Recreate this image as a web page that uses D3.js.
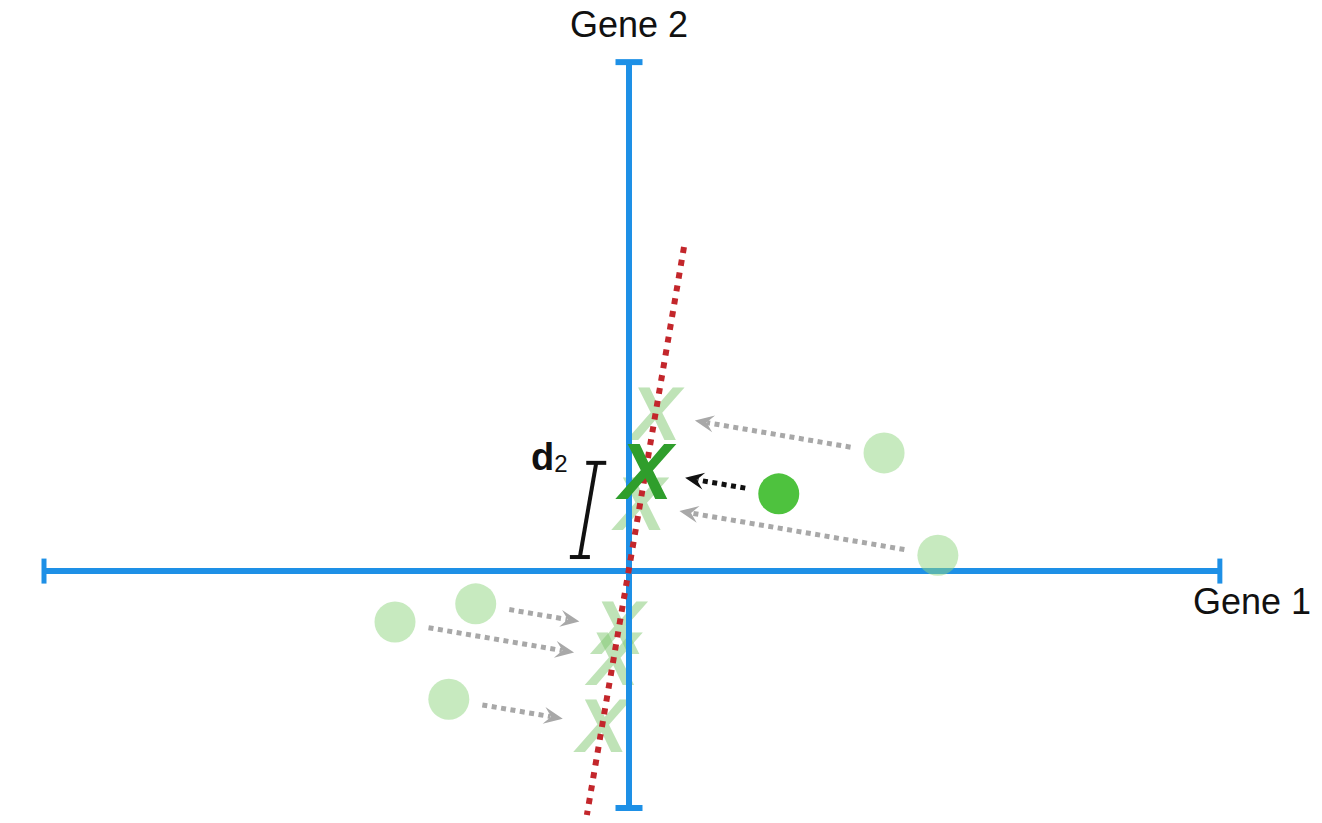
<!DOCTYPE html>
<html><head><meta charset="utf-8">
<script src="https://cdn.jsdelivr.net/npm/d3@7"></script>
<style>html,body{margin:0;background:#fff}svg{display:block}</style>
</head><body>
<svg id="chart" width="1322" height="823"></svg>
<script>
// ---- data (in gene-space units) ----
const axisLabels = ["Gene 1", "Gene 2"];
const xExtent = [-10, 10.1];
const yExtent = [-4.05, 8.7];
const pointX = [4.36, 5.28, 2.56, -2.62, -4.00, -3.08];
const pointY = [2.02, 0.27, 1.32, -0.56, -0.87, -2.19];
const highlighted = [false, false, true, false, false, false];
const pcLineX = [0.94, -0.72];
const pcLineY = [5.54, -4.17];
const d2X = [-0.56, -0.84];
const d2Y = [1.85, 0.24];
const d2Label = ["d", "2"];
const markLabel = "X";

// ---- scales ----
const unit = 58.5;
const x = d3.scaleLinear().domain(xExtent).range([44, 44 + (xExtent[1]-xExtent[0])*unit]);
const y = d3.scaleLinear().domain(yExtent).range([808, 808 - (yExtent[1]-yExtent[0])*unit]);

const svg = d3.select("#chart");
const FONT = "'Liberation Sans', Arial, Helvetica, sans-serif";
const BLUE = "#1e90e6";

// projections onto the dotted line
const ux0 = pcLineX[0]-pcLineX[1], uy0 = pcLineY[0]-pcLineY[1];
const ul = Math.hypot(ux0, uy0);
const ux = ux0/ul, uy = uy0/ul;
const pts = pointX.map((px, i) => {
  const t = (px - pcLineX[1])*ux + (pointY[i] - pcLineY[1])*uy;
  return {x: px, y: pointY[i], hi: highlighted[i],
          qx: pcLineX[1] + t*ux, qy: pcLineY[1] + t*uy};
});

// ---- light projected X marks ----
const lfs = 76;
svg.append("g").selectAll("text").data(pts.filter(d => !d.hi)).join("text")
  .attr("x", d => x(d.qx)).attr("y", d => y(d.qy) + 0.344*lfs)
  .attr("text-anchor", "middle")
  .attr("font-family", FONT).attr("font-weight", "bold").attr("font-style", "italic")
  .attr("font-size", lfs)
  .attr("fill", "#80c870").attr("fill-opacity", 0.5)
  .text(markLabel);

// ---- axes ----
const ax = svg.append("g").attr("stroke", BLUE).attr("stroke-width", 6);
ax.append("line").attr("x1", x(xExtent[0])).attr("x2", x(xExtent[1])).attr("y1", y(0)).attr("y2", y(0));
ax.append("line").attr("x1", x(0)).attr("x2", x(0)).attr("y1", y(yExtent[0])).attr("y2", y(yExtent[1]));
xExtent.forEach(v => ax.append("line").attr("stroke-width", 5)
  .attr("x1", x(v)).attr("x2", x(v)).attr("y1", y(0)-12.5).attr("y2", y(0)+12.5));
yExtent.forEach(v => ax.append("line").attr("stroke-width", 6)
  .attr("y1", y(v)).attr("y2", y(v)).attr("x1", x(0)-13.5).attr("x2", x(0)+13.5));

svg.append("text").attr("x", x(0)).attr("y", 37).attr("text-anchor", "middle")
  .attr("font-family", FONT).attr("font-size", 36).attr("fill", "#111").text(axisLabels[1]);
svg.append("text").attr("x", 1193).attr("y", 614).attr("text-anchor", "start")
  .attr("font-family", FONT).attr("font-size", 36).attr("fill", "#111").text(axisLabels[0]);

// ---- dotted projection line ----
svg.append("line")
  .attr("x1", x(pcLineX[0])).attr("y1", y(pcLineY[0]))
  .attr("x2", x(pcLineX[1])).attr("y2", y(pcLineY[1]))
  .attr("stroke", "#c3262b").attr("stroke-width", 6).attr("stroke-dasharray", "6,7");

// ---- points ----
svg.append("g").selectAll("circle").data(pts).join("circle")
  .attr("cx", d => x(d.x)).attr("cy", d => y(d.y)).attr("r", 20.5)
  .attr("fill", d => d.hi ? "#4ec23e" : "#8fd67f")
  .attr("fill-opacity", d => d.hi ? 1 : 0.5);

// ---- arrows ----
const ag = svg.append("g");
pts.forEach(d => {
  const P = [x(d.x), y(d.y)], Q = [x(d.qx), y(d.qy)];
  const dx = Q[0]-P[0], dy = Q[1]-P[1], L = Math.hypot(dx, dy);
  const ex = dx/L, ey = dy/L;
  const s = [P[0]+34*ex, P[1]+34*ey];
  const tip = [Q[0]-40*ex, Q[1]-40*ey];
  const hl = 19, hw = 17;
  const col = d.hi ? "#111" : "#a8a8a8";
  const le = [tip[0]-hl*0.65*ex, tip[1]-hl*0.65*ey];
  ag.append("line").attr("x1", s[0]).attr("y1", s[1]).attr("x2", le[0]).attr("y2", le[1])
    .attr("stroke", col).attr("stroke-width", 5).attr("stroke-dasharray", "5,4.5");
  const ang = Math.atan2(ey, ex)*180/Math.PI;
  ag.append("path")
    .attr("d", `M0,0L${-hl},${-hw/2}L${-hl*0.62},0L${-hl},${hw/2}Z`)
    .attr("transform", `translate(${tip[0]},${tip[1]}) rotate(${ang})`)
    .attr("fill", col);
});

// ---- highlighted projection X ----
const dfs = 80;
svg.append("g").selectAll("text").data(pts.filter(d => d.hi)).join("text")
  .attr("x", d => x(d.qx)).attr("y", d => y(d.qy) + 0.344*dfs)
  .attr("text-anchor", "middle")
  .attr("font-family", FONT).attr("font-weight", "bold").attr("font-style", "italic")
  .attr("font-size", dfs)
  .attr("fill", "#2f9e2c")
  .text(markLabel);

// ---- d2 bracket ----
const bg = svg.append("g").attr("stroke", "#111").attr("stroke-width", 4);
bg.append("line").attr("x1", x(d2X[0])).attr("y1", y(d2Y[0])).attr("x2", x(d2X[1])).attr("y2", y(d2Y[1]));
d2X.forEach((v, i) => bg.append("line")
  .attr("x1", x(v)-10).attr("x2", x(v)+10).attr("y1", y(d2Y[i])).attr("y2", y(d2Y[i])));
const dt = svg.append("text").attr("x", 531).attr("y", 470)
  .attr("font-family", FONT).attr("fill", "#111");
dt.append("tspan").attr("font-weight", "bold").attr("font-size", 38).text(d2Label[0]);
dt.append("tspan").attr("font-size", 24).attr("dy", 2).text(d2Label[1]);
</script>
</body></html>
